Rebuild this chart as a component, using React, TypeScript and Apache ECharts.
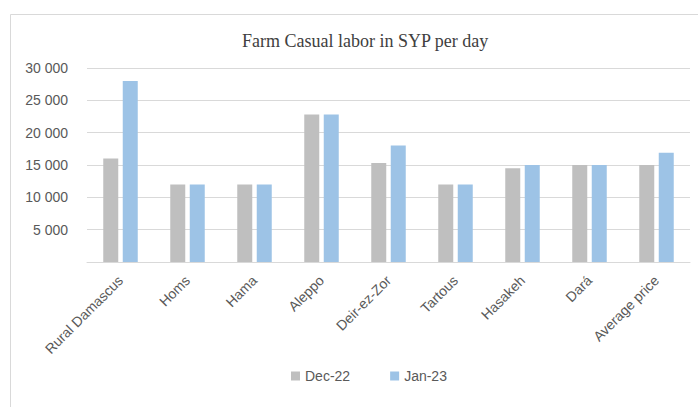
import React, { useEffect, useRef } from "react";
import * as echarts from "echarts";

const categories = ["Rural Damascus", "Homs", "Hama", "Aleppo", "Deir-ez-Zor", "Tartous", "Hasakeh", "Dará", "Average price"];
const dec22 = [16000, 12000, 12000, 22800, 15300, 12000, 14500, 15000, 15000];
const jan23 = [28000, 12000, 12000, 22800, 18000, 12000, 15000, 15000, 16900];
const yTicks = [0, 5000, 10000, 15000, 20000, 25000, 30000];

export default function App() {
  const ref = useRef<HTMLDivElement>(null);
  useEffect(() => {
    const chart = echarts.init(ref.current!, null, { renderer: "svg" });
    chart.setOption({
      animation: false,
      backgroundColor: "#ffffff",
      title: {
        text: "Farm Casual labor in SYP per day",
        left: 237,
        top: 27,
        textStyle: { fontFamily: "Liberation Serif", fontSize: 18, fontWeight: "normal", color: "#404040" },
      },
      graphic: [
        {
          type: "rect",
          shape: { x: 10.5, y: 14.5, width: 700, height: 400 },
          style: { fill: "none", stroke: "#d9d9d9", lineWidth: 1 },
          silent: true,
        },
      ],
      legend: {
        bottom: 19,
        left: 286,
        itemWidth: 9,
        itemHeight: 9,
        itemGap: 40,
        icon: "rect",
        textStyle: { fontFamily: "Liberation Sans", fontSize: 14, color: "#595959" },
        data: ["Dec-22", "Jan-23"],
      },
      grid: { left: 87, right: 8, top: 68, bottom: 145, containLabel: false },
      xAxis: {
        type: "category",
        data: categories,
        axisLine: { lineStyle: { color: "#d9d9d9" } },
        axisTick: { show: false },
        axisLabel: {
          rotate: 45,
          interval: 0,
          fontFamily: "Liberation Sans",
          fontSize: 14,
          color: "#595959",
          margin: 16,
        },
      },
      yAxis: {
        type: "value",
        min: 0,
        max: 30000,
        interval: 5000,
        axisLine: { show: false },
        axisTick: { show: false },
        splitLine: { lineStyle: { color: "#d9d9d9" } },
        axisLabel: {
          fontFamily: "Liberation Sans",
          fontSize: 14,
          color: "#595959",
          margin: 19,
          formatter: (v: number) => (yTicks.includes(v) && v !== 0 ? v.toLocaleString("en-US").replace(",", " ") : ""),
        },
      },
      series: [
        {
          name: "Dec-22",
          type: "bar",
          data: dec22,
          barWidth: 15,
          barGap: "30%",
          itemStyle: { color: "#bfbfbf" },
        },
        {
          name: "Jan-23",
          type: "bar",
          data: jan23,
          barWidth: 15,
          itemStyle: { color: "#9dc3e6" },
        },
      ],
    });
    return () => chart.dispose();
  }, []);
  return <div ref={ref} style={{ position: "fixed", left: 0, top: 0, width: 698, height: 407 }} />;
}
